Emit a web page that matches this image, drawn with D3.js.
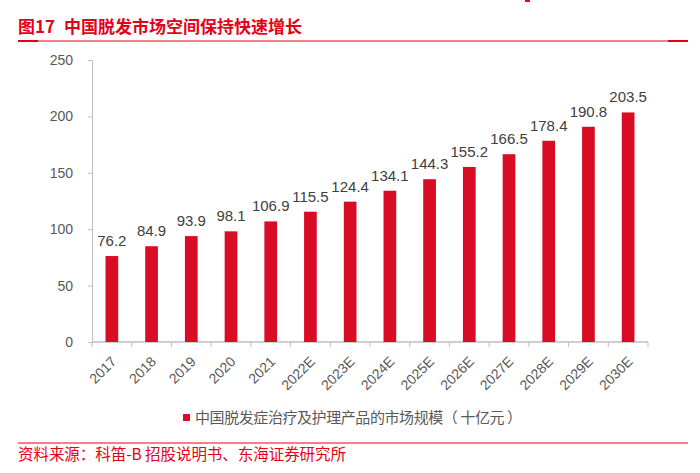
<!DOCTYPE html>
<html>
<head>
<meta charset="utf-8">
<script src="https://cdn.jsdelivr.net/npm/d3@7"></script>
<style>
  body { margin: 0; background: #fff; }
  svg { display: block; }
</style>
</head>
<body>
<div id="chart"></div>
<script>
// chart data
const years = ["2017", "2018", "2019", "2020", "2021", "2022E", "2023E", "2024E",
  "2025E", "2026E", "2027E", "2028E", "2029E", "2030E"];
const marketSize = [76.2, 84.9, 93.9, 98.1, 106.9, 115.5, 124.4, 134.1,
  144.3, 155.2, 166.5, 178.4, 190.8, 203.5];
const yTicks = [0, 50, 100, 150, 200, 250];

const titleText = "图17";
const titleRest = "中国脱发市场空间保持快速增长";
const legendText = "中国脱发症治疗及护理产品的市场规模（ 十亿元 ）";
const sourceText = "资料来源：科笛-B 招股说明书、东海证券研究所";

const red = "#e50019";
const barColor = "#d80c24";
const cjk = "'Noto Sans CJK SC', 'Noto Sans', sans-serif";
const latin = "'Liberation Sans', Arial, sans-serif";

const W = 700, H = 473;
const svg = d3.select("#chart").append("svg")
  .attr("width", W)
  .attr("height", H);

// title + red rule
svg.append("text")
  .attr("x", 18)
  .attr("y", 33)
  .attr("fill", red)
  .attr("font-family", cjk)
  .attr("font-weight", "700")
  .attr("font-size", "17px")
  .text(titleText)
  .append("tspan")
  .attr("dx", 9)
  .text(titleRest);

svg.append("line")
  .attr("x1", 18).attr("x2", 688)
  .attr("y1", 41).attr("y2", 41)
  .attr("stroke", red)
  .attr("stroke-width", 1.2);
svg.append("rect").attr("x", 18).attr("y", 40).attr("width", 20).attr("height", 2).attr("fill", red);
svg.append("rect").attr("x", 668).attr("y", 40).attr("width", 20).attr("height", 2).attr("fill", red);

// little clipped mark at top
svg.append("rect").attr("x", 525).attr("y", 0).attr("width", 5).attr("height", 2).attr("fill", red);

// plot area
const plotLeft = 92, plotRight = 648, plotTop = 60, plotBottom = 342;

const x = d3.scaleBand()
  .domain(years)
  .range([plotLeft, plotRight])
  .paddingInner(0.68)
  .paddingOuter(0.34);

const y = d3.scaleLinear()
  .domain([0, 250])
  .range([plotBottom, plotTop]);

// y axis
const yAxis = svg.append("g")
  .attr("transform", `translate(${plotLeft},0)`)
  .call(d3.axisLeft(y).tickValues(yTicks).tickSize(4).tickPadding(15));
yAxis.select(".domain").attr("stroke", "#bfbfbf");
yAxis.selectAll(".tick line").attr("stroke", "#bfbfbf");
yAxis.selectAll(".tick text")
  .attr("fill", "#595959")
  .attr("font-family", latin)
  .attr("font-size", "14px");

// x axis (ticks between categories)
const xAxis = svg.append("g")
  .attr("transform", `translate(0,${plotBottom})`);
xAxis.append("line")
  .attr("x1", plotLeft).attr("x2", plotRight)
  .attr("y1", 0).attr("y2", 0)
  .attr("stroke", "#bfbfbf")
  .attr("stroke-width", 1.5);
const step = x.step();
xAxis.selectAll(".sep")
  .data(d3.range(years.length + 1))
  .enter()
  .append("line")
  .attr("x1", d => plotLeft + d * step)
  .attr("x2", d => plotLeft + d * step)
  .attr("y1", 0).attr("y2", 5)
  .attr("stroke", "#bfbfbf");

xAxis.selectAll(".lbl")
  .data(years)
  .enter()
  .append("text")
  .attr("transform", d => `translate(${x(d) + x.bandwidth() / 2 + 2},${17}) rotate(-45)`)
  .attr("text-anchor", "end")
  .attr("dy", "0.35em")
  .attr("fill", "#595959")
  .attr("font-family", latin)
  .attr("font-size", "14px")
  .text(d => d);

// bars
svg.selectAll(".bar")
  .data(marketSize)
  .enter()
  .append("rect")
  .attr("x", (d, i) => x(years[i]))
  .attr("y", d => y(d))
  .attr("width", x.bandwidth())
  .attr("height", d => plotBottom - y(d))
  .attr("fill", barColor);

// value labels
svg.selectAll(".val")
  .data(marketSize)
  .enter()
  .append("text")
  .attr("x", (d, i) => x(years[i]) + x.bandwidth() / 2)
  .attr("y", d => y(d) - 10)
  .attr("text-anchor", "middle")
  .attr("fill", "#404040")
  .attr("font-family", latin)
  .attr("font-size", "15px")
  .text(d => d.toFixed(1));

// legend
svg.append("rect")
  .attr("x", 183).attr("y", 414)
  .attr("width", 7).attr("height", 7)
  .attr("fill", barColor);
svg.append("text")
  .attr("x", 195)
  .attr("y", 423)
  .attr("fill", "#595959")
  .attr("font-family", cjk)
  .attr("font-size", "15px")
  .attr("textLength", 327)
  .attr("lengthAdjust", "spacing")
  .text(legendText);

// source
svg.append("line")
  .attr("x1", 18).attr("x2", 688)
  .attr("y1", 443).attr("y2", 443)
  .attr("stroke", red)
  .attr("stroke-width", 1.2);
svg.append("text")
  .attr("x", 18)
  .attr("y", 460)
  .attr("fill", red)
  .attr("font-family", cjk)
  .attr("font-size", "15.5px")
  .attr("textLength", 328)
  .attr("lengthAdjust", "spacing")
  .text(sourceText);
</script>
</body>
</html>
